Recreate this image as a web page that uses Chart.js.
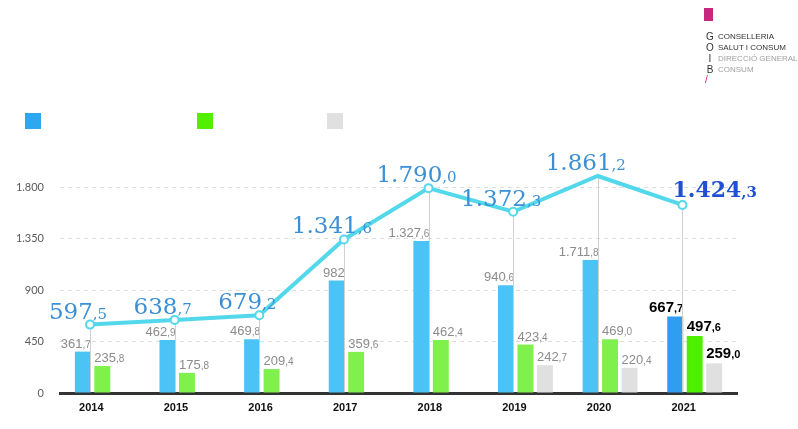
<!DOCTYPE html>
<html>
<head>
<meta charset="utf-8">
<script src="https://cdn.jsdelivr.net/npm/chart.js@4.4.1/dist/chart.umd.min.js"></script>
<style>
  body{margin:0;background:#fff;}
  #wrap{position:relative;width:798px;height:429px;overflow:hidden;}
  canvas{position:absolute;left:0;top:0;}
  .key{position:absolute;top:113px;width:16px;height:16px;}
  #logo{position:absolute;left:700px;top:6px;font-family:"Liberation Sans",Arial,sans-serif;}
  #logo .flag{position:absolute;left:4px;top:2px;width:9px;height:13px;background:#c8277f;}
  #logo .goib{position:absolute;left:5px;top:25px;font-size:10px;line-height:11px;color:#333;width:10px;text-align:center;}
  #logo .txt{position:absolute;left:18px;top:25px;font-size:8px;line-height:11px;white-space:nowrap;color:#333;}
  #logo .txt .lt{color:#a0a0a0;}
  #logo .slash{position:absolute;left:5px;top:68px;font-size:10px;color:#c8277f;}
</style>
</head>
<body>
<div id="wrap">
  <canvas id="bars" width="798" height="429"></canvas>
  <canvas id="total" width="798" height="429"></canvas>
  <div class="key" style="left:25px;background:#2ea6f0"></div>
  <div class="key" style="left:197px;background:#52f000"></div>
  <div class="key" style="left:327px;background:#e0e0e0"></div>
  <div id="logo">
    <div class="flag"></div>
    <div class="goib">G<br>O<br>I<br>B</div>
    <div class="txt">CONSELLERIA<br>SALUT I CONSUM<br><span class="lt">DIRECCIÓ GENERAL<br>CONSUM</span></div>
    <div class="slash">/</div>
  </div>
</div>
<script>
// years on the x axis
const years = ['2014','2015','2016','2017','2018','2019','2020','2021'];

// heights as drawn in the source graphic (some points/bars there are not to scale)
const totalValues = [597.5, 638.7, 679.2, 1341.6, 1790.0, 1584, 1896, 1643];
const blueValues  = [361.7, 462.9, 469.8, 982, 1327.6, 940.6, 1162, 667.7];
const greenValues = [235.8, 175.8, 209.4, 359.6, 462.4, 423.4, 469.0, 497.6];
const grayValues  = [null, null, null, null, null, 242.7, 220.4, 259.0];

// printed value labels
const totalText = ['597,5','638,7','679,2','1.341,6','1.790,0','1.372,3','1.861,2','1.424,3'];
const blueText  = ['361,7','462,9','469,8','982','1.327,6','940,6','1.711,8','667,7'];
const greenText = ['235,8','175,8','209,4','359,6','462,4','423,4','469,0','497,6'];
const grayText  = [null, null, null, null, null, '242,7','220,4','259,0'];

const yTicks = [0, 450, 900, 1350, 1800];

const LAST = years.length - 1;
// chart area shared by both canvases: x 60..737, y 187..393
const PAD = {top: 187, right: 61};

function thousands(v){
    return String(v).replace(/\B(?=(\d{3})+(?!\d))/g, '.');
}
//********************************************** */
function drawSplit(ctx, txt, x, y, align, big, small, color){
    let i = txt.indexOf(',');
    let a = i < 0 ? txt : txt.slice(0, i);
    let b = i < 0 ? '' : txt.slice(i);
    ctx.font = big;
    let wa = ctx.measureText(a).width;
    ctx.font = small;
    let wb = ctx.measureText(b).width;
    let x0 = x - (wa + wb) / 2;
    if(align === 'left') x0 = x;
    if(align === 'right') x0 = x - wa - wb;
    ctx.fillStyle = color;
    ctx.textAlign = 'left';
    ctx.textBaseline = 'alphabetic';
    ctx.font = big;
    ctx.fillText(a, x0, y);
    ctx.font = small;
    ctx.fillText(b, x0 + wa, y);
}
//********************************************** */
const barLabels = {
    id: 'barLabels',
    afterDatasetsDraw(chart){
        let ctx = chart.ctx;
        ctx.save();
        chart.data.datasets.forEach((ds, di) => {
            chart.getDatasetMeta(di).data.forEach((el, i) => {
                let txt = ds.texts[i];
                if(!txt) return;
                let half = el.width / 2;
                let x = ds.labelAlign === 'right' ? el.x + half : el.x - half;
                if(i === LAST){
                    drawSplit(ctx, txt, x, el.y - 5, ds.labelAlign,
                        'bold 15px "Liberation Sans"', 'bold 11px "Liberation Sans"', '#000');
                }else{
                    drawSplit(ctx, txt, x, el.y - 4, ds.labelAlign,
                        '13px "Liberation Sans"', '10px "Liberation Sans"', '#8c8c8c');
                }
            });
        });
        ctx.restore();
    }
};
//********************************************** */
const totalLabels = {
    id: 'totalLabels',
    beforeDatasetsDraw(chart){
        // thin drop lines from the total points to the baseline
        let ctx = chart.ctx;
        let y0 = chart.scales.y.getPixelForValue(0);
        ctx.save();
        ctx.strokeStyle = '#d0d0d0';
        ctx.lineWidth = 1;
        chart.getDatasetMeta(0).data.forEach(pt => {
            ctx.beginPath();
            ctx.moveTo(Math.round(pt.x) + 0.5, pt.y);
            ctx.lineTo(Math.round(pt.x) + 0.5, y0 - 1);
            ctx.stroke();
        });
        ctx.restore();
    },
    afterDatasetsDraw(chart){
        let ctx = chart.ctx;
        ctx.save();
        chart.getDatasetMeta(0).data.forEach((el, i) => {
            if(i === LAST){
                drawSplit(ctx, totalText[i], el.x - 10, el.y - 8, 'left',
                    'bold 22px "DejaVu Serif"', 'bold 15px "DejaVu Serif"', '#1f4fd2');
            }else{
                drawSplit(ctx, totalText[i], el.x - 12, el.y - 6, 'center',
                    '23px "DejaVu Serif"', '15px "DejaVu Serif"', '#3b8fd6');
            }
        });
        ctx.restore();
    }
};
//********************************************** */
function barColor(normal, highlight){
    return c => c.dataIndex === LAST ? highlight : normal;
}

const barChart = new Chart(document.getElementById('bars'), {
    type: 'bar',
    data: {
        labels: years,
        datasets: [
            {
                label: 'a', data: blueValues, texts: blueText, labelAlign: 'right',
                backgroundColor: barColor('#4cc3f7', '#2f9ef0'),
                categoryPercentage: 0.69, barPercentage: 0.82,
            },
            {
                label: 'b', data: greenValues, texts: greenText, labelAlign: 'left',
                backgroundColor: barColor('#80f04c', '#4ef000'),
                categoryPercentage: 0.69, barPercentage: 0.82,
            },
            {
                label: 'c', data: grayValues, texts: grayText, labelAlign: 'left',
                backgroundColor: '#e0e0e0',
                categoryPercentage: 0.69, barPercentage: 0.82,
            },
        ],
    },
    options: {
        responsive: false,
        animation: false,
        layout: {padding: {top: PAD.top, right: PAD.right, left: 0, bottom: 0}},
        plugins: {legend: {display: false}, tooltip: {enabled: false}},
        scales: {
            x: {
                type: 'category',
                offset: true,
                grid: {display: false, drawTicks: false},
                border: {color: '#333', width: 3},
                ticks: {
                    color: '#111', padding: 8, labelOffset: -11,
                    font: {family: 'Liberation Sans', weight: 'bold', size: 11},
                },
                afterFit(s){ s.height = 36; },
            },
            y: {
                min: yTicks[0], max: yTicks[yTicks.length - 1],
                afterBuildTicks(s){ s.ticks = yTicks.map(v => ({value: v})); },
                grid: {
                    drawTicks: false,
                    color: c => c.tick.value === 0 ? 'rgba(0,0,0,0)' : '#dedede',
                },
                border: {display: false, dash: [4, 4]},
                ticks: {
                    color: '#5a5a5a', padding: 16,
                    font: {family: 'Lato', size: 11},
                    callback: v => thousands(v),
                },
                afterFit(s){ s.width = 60; },
            },
        },
    },
    plugins: [barLabels],
});

// the total line sits on its own transparent canvas: its points fall
// between the blue and green bars, not at the bar group centre
const lineChart = new Chart(document.getElementById('total'), {
    type: 'line',
    data: {
        datasets: [{
            label: 'total',
            data: years.map((yr, i) => ({x: +yr, y: totalValues[i]})),
            borderColor: '#52d8ea', borderWidth: 4,
            pointRadius: 4, pointBackgroundColor: '#fff',
            pointBorderColor: '#52d8ea', pointBorderWidth: 2,
            tension: 0, clip: false,
        }],
    },
    options: {
        responsive: false,
        animation: false,
        layout: {padding: {top: PAD.top, right: PAD.right, left: 60, bottom: 36}},
        plugins: {legend: {display: false}, tooltip: {enabled: false}},
        scales: {
            x: {type: 'linear', display: false, min: 2013.645, max: 2021.645},
            y: {display: false, min: yTicks[0], max: yTicks[yTicks.length - 1]},
        },
    },
    plugins: [totalLabels],
});
</script>
</body>
</html>
